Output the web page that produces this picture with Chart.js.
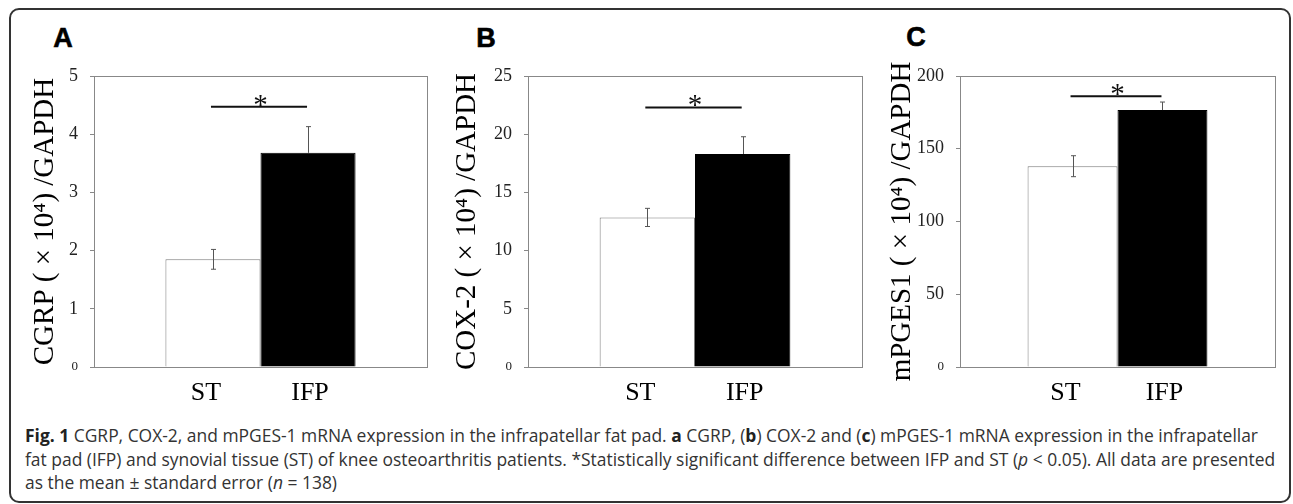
<!DOCTYPE html>
<html>
<head>
<meta charset="utf-8">
<script src="https://cdn.jsdelivr.net/npm/chart.js@4.4.1/dist/chart.umd.min.js"></script>
<style>
body { margin: 0; background: #fff; width: 1293px; height: 504px; position: relative; overflow: hidden; }
#frame { position: absolute; left: 9px; top: 8px; width: 1282px; height: 495px; border: 2px solid #333; border-radius: 10px; box-sizing: border-box; }
.panel { position: absolute; top: 0; }
.letter { position: absolute; font: 900 27px "Liberation Sans", sans-serif; transform: translate(-50%, -50%); color: #000; -webkit-text-stroke: 0.6px #000; }
#caption { position: absolute; left: 25px; top: 423px; font-family: "Open Sans", sans-serif; font-size: 18.5px; line-height: 23.5px; color: #333; white-space: nowrap; transform-origin: 0 0; }
#caption b { color: #222; }
</style>
</head>
<body>
<div id="frame"></div>
<div class="letter" style="left:63px;top:38px">A</div>
<div class="letter" style="left:486px;top:38px">B</div>
<div class="letter" style="left:916px;top:37px">C</div>
<div class="panel" style="left:10px"><canvas id="chartA" width="422" height="420"></canvas></div>
<div class="panel" style="left:440px"><canvas id="chartB" width="427" height="420"></canvas></div>
<div class="panel" style="left:870px"><canvas id="chartC" width="410" height="420"></canvas></div>
<div id="caption">
<div><span><b>Fig. 1</b> CGRP, COX-2, and mPGES-1 mRNA expression in the infrapatellar fat pad. <b>a</b> CGRP, (<b>b</b>) COX-2 and (<b>c</b>) mPGES-1 mRNA expression in the infrapatellar</span></div>
<div><span>fat pad (IFP) and synovial tissue (ST) of knee osteoarthritis patients. *Statistically significant difference between IFP and ST (<i>p</i> &lt; 0.05). All data are presented</span></div>
<div><span>as the mean ± standard error (<i>n</i> = 138)</span></div>
</div>
<script>
const groups = ['ST', 'IFP'];
const barColors = ['#ffffff', '#000000'];
const barBorders = ['#7a7a7a', '#000000'];

const cgrpMean = [1.85, 3.68];
const cgrpErr = [0.17, 0.45];
const cox2Mean = [12.85, 18.3];
const cox2Err = [0.78, 1.48];
const mpgesMean = [138, 176.6];
const mpgesErr = [7.2, 5.5];

// height of the significance line for each panel
const sigLevel = [4.47, 22.3, 186];

// Draws error bars, the significance line with its star and the group names under the bars
const extras = {
    id: 'extras',
    afterDatasetsDraw(chart) {
        const opts = chart.options.plugins.extras;
        const ctx = chart.ctx;
        const y = chart.scales.y;
        const centers = chart.data.datasets.map((d, i) => chart.getDatasetMeta(i).data[0].x);
        ctx.save();

        chart.data.datasets.forEach((d, i) => {
            const x = Math.round(centers[i]) + 0.5;
            const top = y.getPixelForValue(d.data[0] + opts.err[i]);
            const bottom = y.getPixelForValue(d.data[0] - opts.err[i]);
            const hideLower = barColors[i] === '#000000';
            ctx.strokeStyle = '#555';
            ctx.lineWidth = 1;
            ctx.beginPath();
            ctx.moveTo(x, top);
            ctx.lineTo(x, hideLower ? y.getPixelForValue(d.data[0]) : bottom);
            ctx.moveTo(x - 2.5, top);
            ctx.lineTo(x + 2.5, top);
            if (!hideLower) {
                ctx.moveTo(x - 2.5, bottom);
                ctx.lineTo(x + 2.5, bottom);
            }
            ctx.stroke();
        });

        const ys = y.getPixelForValue(opts.sig);
        ctx.strokeStyle = '#111';
        ctx.lineWidth = 2;
        ctx.beginPath();
        ctx.moveTo(centers[0] - 2, ys);
        ctx.lineTo(centers[1] - 1, ys);
        ctx.stroke();
        ctx.fillStyle = '#111';
        ctx.font = '29px "Liberation Serif"';
        ctx.textAlign = 'center';
        ctx.textBaseline = 'alphabetic';
        ctx.fillText('*', (centers[0] + centers[1]) / 2, ys + 7);

        ctx.fillStyle = '#000';
        ctx.font = '26px "Liberation Serif"';
        groups.forEach((g, i) => {
            ctx.fillText(g, centers[i] + (i === 0 ? -7 : 2), chart.chartArea.bottom + 33);
        });

        // top and right edge of the plot box
        const a = chart.chartArea;
        ctx.strokeStyle = '#888';
        ctx.lineWidth = 1;
        ctx.strokeRect(Math.round(a.left) + 0.5, Math.round(a.top) + 0.5, Math.round(a.right - a.left), Math.round(a.bottom - a.top));
        ctx.restore();
    }
};

function makePanel(canvasId, title, means, errs, sig, maxY, stepY, axisWidth, titlePad) {
    const ctx = document.getElementById(canvasId).getContext('2d');
    return new Chart(ctx, {
        type: 'bar',
        data: {
            labels: [''],
            datasets: groups.map((g, i) => ({
                label: g,
                data: [means[i]],
                backgroundColor: barColors[i],
                borderColor: barBorders[i],
                borderWidth: 1,
                categoryPercentage: 0.571,
                barPercentage: 1
            }))
        },
        options: {
            responsive: false,
            animation: false,
            layout: { padding: { top: 76, right: 5, bottom: 0, left: 0 } },
            plugins: {
                legend: { display: false },
                tooltip: { enabled: false },
                extras: { err: errs, sig: sig }
            },
            scales: {
                x: {
                    grid: { display: false },
                    ticks: { display: false },
                    border: { color: '#888', width: 1 },
                    afterFit: s => { s.height = 53; }
                },
                y: {
                    min: 0,
                    max: maxY,
                    ticks: {
                        stepSize: stepY,
                        padding: 12,
                        color: '#222',
                        font: c => ({ family: 'Liberation Serif', size: c.tick && c.tick.value === 0 ? 13 : 18 })
                    },
                    grid: { drawOnChartArea: false, drawTicks: true, tickLength: 4, color: '#888' },
                    border: { color: '#888', width: 1 },
                    title: {
                        display: true,
                        text: title,
                        color: '#000',
                        font: { family: 'Liberation Serif', size: 29, lineHeight: 1 },
                        padding: { top: titlePad, bottom: 0 }
                    },
                    afterFit: s => { s.width = axisWidth; }
                }
            }
        },
        plugins: [extras]
    });
}

makePanel('chartA', 'CGRP ( × 10⁴) /GAPDH', cgrpMean, cgrpErr, sigLevel[0], 5, 1, 84, 21);
makePanel('chartB', 'COX-2 ( × 10⁴) /GAPDH', cox2Mean, cox2Err, sigLevel[1], 25, 5, 88, 13);
makePanel('chartC', 'mPGES1 ( × 10⁴) /GAPDH', mpgesMean, mpgesErr, sigLevel[2], 200, 50, 90, 18);

// squeeze caption lines to the width of the original text block
const cap = document.getElementById('caption');
const firstLine = cap.querySelector('span').getBoundingClientRect().width;
cap.style.transform = 'scaleX(' + (1233 / firstLine) + ')';
</script>
</body>
</html>
